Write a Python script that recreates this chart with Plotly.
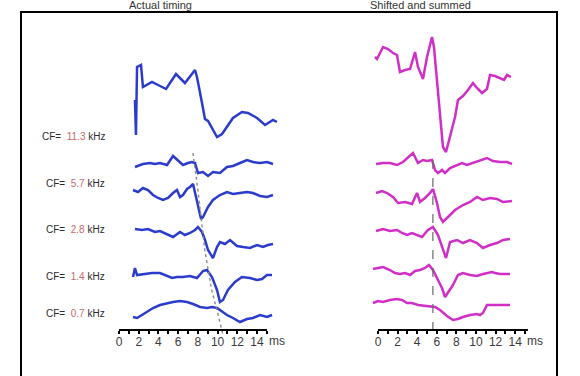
import plotly.graph_objects as go

# ---------------- data (time in ms, amplitude in arbitrary units) ----------------
cf_labels = ["11.3", "5.7", "2.8", "1.4", "0.7"]
tick_vals = list(range(0, 16))
tick_text = [str(v) if v % 2 == 0 else "" for v in tick_vals]

# Actual timing (left)
left_sum_t = [1.62, 1.72, 1.83, 2.23, 2.43, 3.35, 3.96, 4.77, 5.78, 6.69, 7.71, 7.91, 8.42, 8.72, 9.03, 9.94, 10.45, 11.56, 12.47, 13.08, 14.0, 14.81, 15.62, 16.02]
left_sum_a = [0, -35, 33, 35, 13, 18, 15, 11, 26, 17, 30, 23, -3, -19, -21, -37, -34, -18, -12, -13, -18, -25, -20, -22]

left_113_t = [1.62, 2.43, 3.14, 3.65, 4.16, 4.87, 5.48, 5.98, 6.49, 7.0, 7.40, 7.71, 8.01, 8.52, 9.03, 9.53, 10.24, 10.95, 11.56, 12.27, 12.98, 13.59, 14.30, 15.01, 15.62]
left_113_a = [-2, 1, 2, 1, 2, 0, 9, 5, 0, 2, 3, 2, -8, -7, -11, -7, -8, -2, -1, 2, 5, 3, 2, 3, 1]

left_57_t = [1.42, 1.93, 2.43, 2.94, 3.45, 3.96, 4.46, 4.97, 5.48, 5.88, 6.19, 6.49, 6.90, 7.20, 7.51, 7.71, 8.01, 8.32, 8.52, 9.03, 9.53, 10.24, 10.95, 11.56, 12.27, 12.98, 13.59, 14.30, 15.01, 15.62]
left_57_a = [3, 1, 5, 3, -2, -5, -7, -5, 0, 3, -4, -2, 4, 6, 9, 0, -14, -26, -24, -14, -7, -2, 1, -1, 0, 1, 0, -3, -4, -2]

left_28_t = [1.62, 2.33, 2.94, 3.65, 4.16, 4.87, 5.48, 6.19, 6.69, 7.20, 7.71, 8.01, 8.42, 8.72, 9.03, 9.53, 9.94, 10.24, 10.75, 11.26, 11.97, 12.58, 13.29, 14.0, 14.60, 15.11, 15.62]
left_28_a = [3, 2, 3, 0, 1, -2, -5, 0, -3, -1, 2, 5, 0, -8, -18, -26, -15, -10, -12, -8, -14, -15, -16, -13, -15, -13, -12]

left_14_t = [1.42, 1.62, 1.83, 2.43, 3.35, 4.16, 4.87, 5.38, 5.88, 6.49, 7.20, 7.91, 8.52, 8.92, 9.43, 9.94, 10.24, 10.55, 11.05, 11.76, 12.47, 13.29, 14.0, 14.50, 15.01, 15.52]
left_14_a = [-2, 7, 0, 1, 2, 2, -1, -3, -2, -2, -1, -3, 4, 5, -2, -15, -27, -25, -15, -7, -2, -3, -5, -4, 0, 0]

left_07_t = [1.42, 1.83, 2.33, 2.84, 3.45, 4.16, 4.87, 5.48, 6.19, 6.90, 7.51, 8.22, 8.92, 9.43, 9.94, 10.24, 10.95, 11.56, 12.27, 12.98, 13.59, 14.30, 15.01, 15.52]
left_07_a = [-9, -10, -7, -4, 0, 3, 5, 6, 7, 6, 4, 1, 0, 1, 0, -2, -7, -10, -14, -11, -10, -7, -9, -7]

latency_t = [7.5, 8.0, 8.7, 9.4, 10.0, 10.55]
latency_lvl = [177, 140, 80, 40, 17, -5]

# Shifted and summed (right)
right_sum_t = [-0.31, -0.10, 0.51, 1.02, 1.53, 1.94, 2.24, 2.76, 3.27, 3.78, 4.08, 4.59, 5.0, 5.51, 5.71, 6.02, 6.33, 6.63, 6.94, 7.35, 7.86, 8.16, 8.67, 9.18, 9.69, 10.10, 10.61, 11.12, 11.43, 11.94, 12.45, 12.86, 13.16, 13.57]
right_sum_a = [23, 21, 33, 31, 27, 25, 8, 10, 11, 28, 13, 1, 23, 43, 33, 0, -40, -67, -72, -57, -37, -20, -16, -10, -3, -8, -13, -9, 5, 4, 2, 0, 5, 3]

right_113_t = [-0.2, 0.51, 1.22, 1.94, 2.55, 3.27, 3.57, 4.08, 4.59, 5.0, 5.51, 5.82, 6.12, 6.53, 6.84, 7.35, 8.06, 8.57, 9.08, 9.69, 10.41, 11.12, 11.73, 12.45, 13.16, 13.67]
right_113_a = [0, 1, 1, -1, 2, 9, 11, 1, 4, 3, 4, -6, -9, -6, -9, -4, -1, 1, -1, 1, 4, 6, 3, 2, 2, 0]

right_57_t = [-0.2, 0.41, 0.92, 1.53, 2.04, 2.76, 3.47, 3.98, 4.29, 4.80, 5.31, 5.61, 6.02, 6.33, 6.63, 7.14, 7.86, 8.67, 9.39, 10.10, 10.71, 11.43, 12.14, 12.76, 13.67]
right_57_a = [4, 6, 4, 0, -6, -5, -7, 4, -5, -1, 4, 8, -6, -20, -25, -20, -13, -8, -5, 0, -3, -1, -2, -5, -4]

right_28_t = [-0.2, 0.51, 1.22, 1.94, 2.45, 2.96, 3.47, 3.98, 4.49, 5.10, 5.61, 6.12, 6.63, 6.94, 7.35, 8.06, 8.67, 9.39, 10.10, 10.71, 11.43, 12.14, 12.76, 13.47]
right_28_a = [1, 3, 1, 2, -1, -3, -1, -3, -5, 2, 5, -3, -18, -26, -10, -8, -11, -8, -11, -16, -13, -11, -8, -7]

right_14_t = [-0.51, 0, 0.51, 1.22, 1.73, 2.24, 2.76, 3.27, 3.78, 4.29, 4.80, 5.20, 5.61, 6.12, 6.53, 6.84, 7.14, 7.65, 8.16, 8.67, 9.39, 10.10, 10.71, 11.12, 11.63, 11.94, 12.45, 13.47]
right_14_a = [2, 3, 4, 1, -2, -3, -2, -4, 0, 1, 3, 6, 1, -9, -17, -26, -22, -14, -4, -2, -4, -5, -3, -2, -1, -2, -3, -3]

right_07_t = [-0.51, 0, 0.51, 1.22, 1.94, 2.45, 2.96, 3.47, 4.08, 4.80, 5.31, 5.82, 6.33, 7.04, 7.65, 8.16, 8.67, 9.39, 10.10, 10.41, 10.71, 10.92, 11.12, 11.73, 13.47]
right_07_a = [0, 2, 1, 3, 4, 3, 0, 0, -2, -3, -4, -4, -7, -13, -17, -16, -14, -12, -11, -12, -10, -5, -2, -2, -2]

align_t = 5.6
align_lvl = [170, -8]

# ---------------- layout helpers ----------------
W, H = 580, 376
BLUE = "#2b3ccc"
MAG = "#d02ec6"

left_series = [(left_sum_t, left_sum_a, 230), (left_113_t, left_113_a, 165), (left_57_t, left_57_a, 137),
               (left_28_t, left_28_a, 98), (left_14_t, left_14_a, 55), (left_07_t, left_07_a, 22)]
right_series = [(right_sum_t, right_sum_a, 250), (right_113_t, right_113_a, 166), (right_57_t, right_57_a, 133),
                (right_28_t, right_28_a, 98), (right_14_t, right_14_a, 59), (right_07_t, right_07_a, 27)]

fig = go.Figure()
for t, a, off in left_series:
    fig.add_trace(go.Scatter(x=t, y=[v + off for v in a], mode="lines",
                             line=dict(color=BLUE, width=2.5), xaxis="x", yaxis="y",
                             hoverinfo="skip", showlegend=False))
for t, a, off in right_series:
    fig.add_trace(go.Scatter(x=t, y=[v + off for v in a], mode="lines",
                             line=dict(color=MAG, width=2.5), xaxis="x2", yaxis="y2",
                             hoverinfo="skip", showlegend=False))

fig.add_trace(go.Scatter(x=latency_t, y=latency_lvl, mode="lines",
                         line=dict(color="#8a8a8a", width=1.4, dash="dot"),
                         xaxis="x", yaxis="y", hoverinfo="skip", showlegend=False))
fig.add_trace(go.Scatter(x=[align_t, align_t], y=align_lvl, mode="lines",
                         line=dict(color="#6a6a6a", width=1.2, dash="dash"),
                         xaxis="x2", yaxis="y2", hoverinfo="skip", showlegend=False))

axis_y = (H - 330) / H
tick_font = dict(family="Liberation Sans, Arial, sans-serif", size=12, color="#3a3a3a")
common_x = dict(anchor="free", position=axis_y, showgrid=False, zeroline=False, showline=False,
                tickmode="array", tickvals=tick_vals, ticktext=tick_text, ticks="outside",
                ticklen=3, tickwidth=1.5, tickcolor="black", tickfont=tick_font,
                ticklabelstandoff=-2)
fig.update_layout(
    width=W, height=H, autosize=False, margin=dict(l=0, r=0, t=0, b=0),
    paper_bgcolor="white", plot_bgcolor="rgba(0,0,0,0)", showlegend=False,
    xaxis=dict(domain=[100 / W, 290 / W], range=[(100 - 119) / 9.86, (290 - 119) / 9.86], **common_x),
    xaxis2=dict(domain=[360 / W, 560 / W], range=[(360 - 378) / 9.8, (560 - 378) / 9.8], **common_x),
    yaxis=dict(domain=[0, 1], range=[-46, 330], visible=False, anchor="x"),
    yaxis2=dict(domain=[0, 1], range=[-46, 330], visible=False, anchor="x2"),
)

shapes = [
    dict(type="rect", xref="paper", yref="paper", x0=21 / W, x1=557 / W, y0=-0.2, y1=(H - 12) / H,
         line=dict(color="black", width=2), fillcolor="rgba(0,0,0,0)", layer="below"),
    dict(type="line", xref="x", yref="paper", x0=0, x1=15.0, y0=axis_y, y1=axis_y,
         line=dict(color="black", width=2)),
    dict(type="line", xref="x2", yref="paper", x0=0, x1=15.3, y0=axis_y, y1=axis_y,
         line=dict(color="black", width=2)),
]
fig.update_layout(shapes=shapes)

ann = []
label_y = [136, 183, 229, 276, 313]
for lab, yp in zip(cf_labels, label_y):
    ann.append(dict(xref="paper", yref="paper", x=107 / W, y=(H - yp) / H, xanchor="right", yanchor="middle",
                    showarrow=False,
                    text=f"CF=  <span style='color:#c46a6a'>{lab}</span> kHz",
                    font=dict(family="Liberation Sans, Arial, sans-serif", size=10, color="#2a2a2a")))
for xr in ["x", "x2"]:
    ann.append(dict(xref=xr, yref="paper", x=16.0, y=(H - 341) / H, xanchor="center", yanchor="middle",
                    showarrow=False, text="ms", font=tick_font))
ann.append(dict(xref="paper", yref="paper", x=160 / W, y=(H - 5) / H, xanchor="center", yanchor="middle",
                showarrow=False, text="Actual timing",
                font=dict(family="Liberation Sans, Arial, sans-serif", size=11, color="#333")))
ann.append(dict(xref="paper", yref="paper", x=420 / W, y=(H - 5) / H, xanchor="center", yanchor="middle",
                showarrow=False, text="Shifted and summed",
                font=dict(family="Liberation Sans, Arial, sans-serif", size=11, color="#333")))
fig.update_layout(annotations=ann)

fig.write_html("out.html", config={"displayModeBar": False},
               post_script="document.body.style.margin='0';document.body.style.overflow='hidden';")
